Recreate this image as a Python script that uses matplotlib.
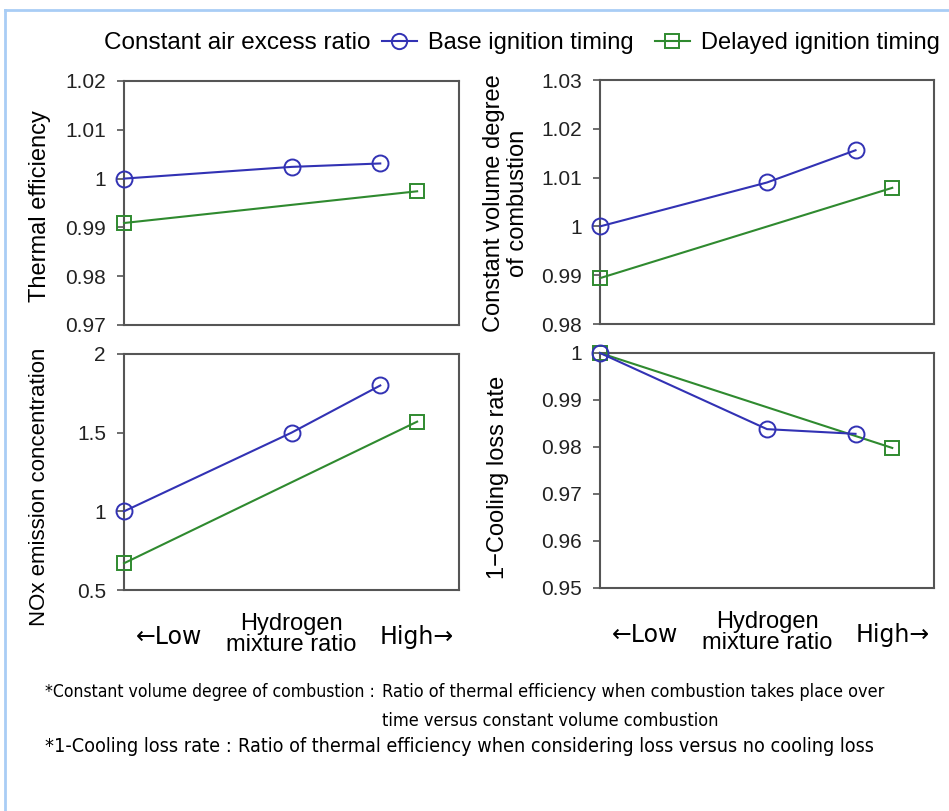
import matplotlib
matplotlib.use("Agg")
import matplotlib.pyplot as plt
from matplotlib import font_manager
from matplotlib.lines import Line2D
from matplotlib.ticker import FuncFormatter, MultipleLocator

# ---- data ----
x_base = [0.0, 0.50, 0.765]
x_delayed = [0.0, 0.875]

thermal_base = [1.000, 1.0024, 1.0031]
thermal_delayed = [0.9909, 0.9974]

cvdc_base = [1.000, 1.009, 1.0156]
cvdc_delayed = [0.9894, 1.0079]

nox_base = [1.00, 1.50, 1.80]
nox_delayed = [0.67, 1.57]

cool_base = [1.000, 0.9838, 0.9828]
cool_delayed = [1.000, 0.9798]

series_labels = ["Base ignition timing", "Delayed ignition timing"]
ylabels = ["Thermal efficiency", "Constant volume degree\nof combustion",
           "NOx emission concentration", "1\u2212Cooling loss rate"]
ylims = [(0.97, 1.02), (0.98, 1.03), (0.5, 2.0), (0.95, 1.0)]
ysteps = [0.01, 0.01, 0.5, 0.01]

BLUE = "#3232b4"
GREEN = "#2f8a2f"
SPINE = "#555555"
W, H = 949, 811

plt.rcParams['font.family'] = ['Liberation Sans', 'DejaVu Sans']

# look for a condensed / narrow face for the footnotes
cond = None
for f in font_manager.fontManager.ttflist:
    nm = (f.name + " " + f.fname).lower()
    if ("narrow" in nm or "condensed" in nm) and f.weight in (400, "normal", "regular") \
            and f.style == "normal" and "bold" not in f.fname.lower():
        if cond is None or "liberation" in nm:
            cond = f.fname

def fp(size):
    if cond:
        return font_manager.FontProperties(fname=cond, size=size)
    return font_manager.FontProperties(family=['Liberation Sans', 'DejaVu Sans'], size=size)

fig = plt.figure(figsize=(W / 100, H / 100), dpi=100)

def px_axes(l, t, r, b):
    return fig.add_axes([l / W, 1 - b / H, (r - l) / W, (b - t) / H])

axes = [px_axes(124, 81, 459, 325), px_axes(600, 80, 934, 324),
        px_axes(124, 354, 459, 590), px_axes(600, 353, 934, 588)]
data = [(thermal_base, thermal_delayed), (cvdc_base, cvdc_delayed),
        (nox_base, nox_delayed), (cool_base, cool_delayed)]

fmt = FuncFormatter(lambda v, p: f"{round(v, 4):g}")

for ax, (yb, yd), lim, st in zip(axes, data, ylims, ysteps):
    ax.plot(x_base, yb, color=BLUE, lw=1.5, marker='o', ms=11.5, mfc='none',
            mec=BLUE, mew=1.4, clip_on=False, zorder=5)
    ax.plot(x_delayed, yd, color=GREEN, lw=1.5, marker='s', ms=10.5, mfc='none',
            mec=GREEN, mew=1.4, clip_on=False, zorder=4)
    ax.set_xlim(0, 1)
    ax.set_ylim(*lim)
    ax.yaxis.set_major_locator(MultipleLocator(st))
    ax.yaxis.set_major_formatter(fmt)
    ax.set_xticks([])
    ax.tick_params(axis='y', length=5, width=1.2, color=SPINE, labelsize=15,
                   pad=8, labelcolor='#222222')
    for s in ax.spines.values():
        s.set_color(SPINE)
        s.set_linewidth(1.5)

# y labels
fig.text(40 / W, 1 - 206 / H, ylabels[0], rotation=90, ha='center', va='center', fontsize=17)
fig.text(506 / W, 1 - 203 / H, ylabels[1], rotation=90, ha='center', va='center',
         fontsize=17, linespacing=1.1)
fig.text(40 / W, 1 - 487 / H, ylabels[2], rotation=90, ha='center', va='center', fontsize=16)
fig.text(498 / W, 1 - 477 / H, ylabels[3], rotation=90, ha='center', va='center', fontsize=17)

# x axis annotations
for ax in axes[2:]:
    ax.text(0.135, -0.20, "\u2190Low", transform=ax.transAxes, ha='center', va='center',
            fontsize=17, family=['DejaVu Sans'])
    ax.text(0.5, -0.19, "Hydrogen\nmixture ratio", transform=ax.transAxes, ha='center',
            va='center', fontsize=17, linespacing=0.95)
    ax.text(0.875, -0.20, "High\u2192", transform=ax.transAxes, ha='center', va='center',
            fontsize=17, family=['DejaVu Sans'])

# legend
fig.text(370 / W, 1 - 43 / H, "Constant air excess ratio", ha='right', va='center',
         fontsize=17.5)
handles = [Line2D([], [], color=BLUE, lw=1.5, marker='o', ms=11, mfc='none', mew=1.4),
           Line2D([], [], color=GREEN, lw=1.5, marker='s', ms=10, mfc='none', mew=1.4)]
fig.legend(handles, series_labels, loc='center left', bbox_to_anchor=(382 / W, 1 - 43 / H),
           ncol=2, frameon=False, handlelength=1.48, handletextpad=0.47, columnspacing=0.9,
           prop={'size': 17}, borderaxespad=0, borderpad=0)

# footnotes, each scaled to the width it occupies in the reference
renderer = fig.canvas.get_renderer()

def fit(x0, x1, y, s, base=14.0):
    t = fig.text(x0 / W, 1 - y / H, s, ha='left', va='center', fontproperties=fp(base))
    w = t.get_window_extent(renderer).width
    t.set_fontsize(base * (x1 - x0) / w)
    return t

fit(45, 377, 692, "*Constant volume degree of combustion :")
fit(382, 888, 692, "Ratio of thermal efficiency when combustion takes place over")
fit(382, 721, 721, "time versus constant volume combustion")
fit(45, 233, 747, "*1-Cooling loss rate :")
fit(238, 877, 747, "Ratio of thermal efficiency when considering loss versus no cooling loss")

# light blue frame
fig.add_artist(Line2D([5 / W, 5 / W], [0, 1 - 10 / H], color='#a9cdf5', lw=2))
fig.add_artist(Line2D([5 / W, 1], [1 - 10 / H, 1 - 10 / H], color='#a9cdf5', lw=2))

fig.savefig("out.png", dpi=100)
